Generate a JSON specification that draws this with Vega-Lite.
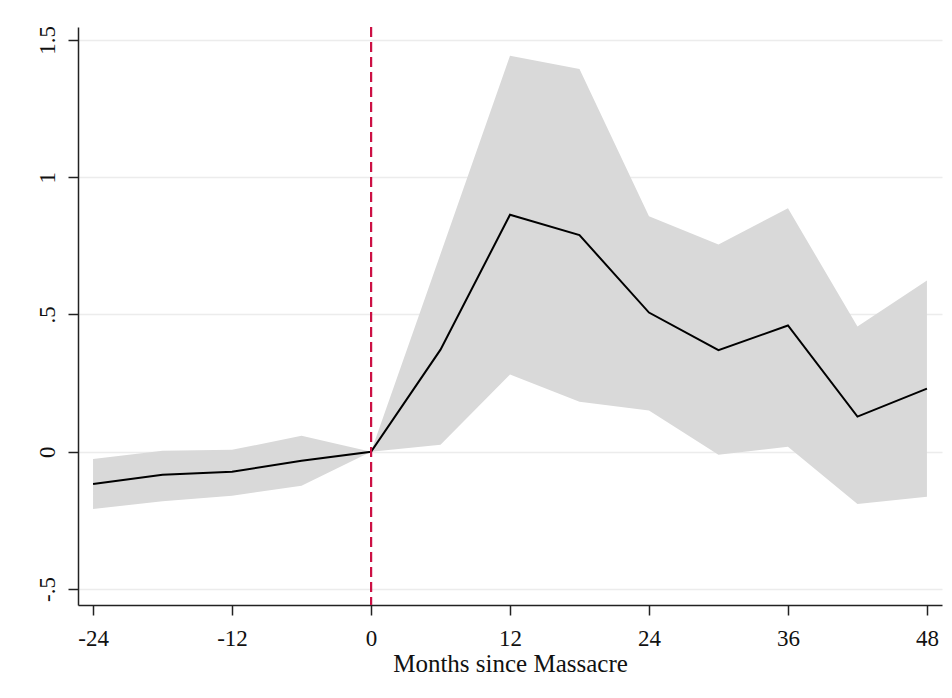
{
  "$schema": "https://vega.github.io/schema/vega-lite/v6.json",
  "width": 864,
  "height": 578,
  "autosize": {"type": "none"},
  "padding": {"left": 78, "top": 27, "right": 10, "bottom": 93},
  "background": "white",
  "config": {
    "view": {"stroke": null},
    "font": "Liberation Serif"
  },
  "data": {
    "values": [
      {"m": -24, "coef": -0.117, "lo": -0.208, "hi": -0.026},
      {"m": -18, "coef": -0.084, "lo": -0.180, "hi": 0.004},
      {"m": -12, "coef": -0.073, "lo": -0.160, "hi": 0.007},
      {"m": -6, "coef": -0.033, "lo": -0.124, "hi": 0.058},
      {"m": 0, "coef": 0.0, "lo": 0.0, "hi": 0.0},
      {"m": 6, "coef": 0.372, "lo": 0.026, "hi": 0.72},
      {"m": 12, "coef": 0.863, "lo": 0.281, "hi": 1.442},
      {"m": 18, "coef": 0.789, "lo": 0.182, "hi": 1.394},
      {"m": 24, "coef": 0.507, "lo": 0.150, "hi": 0.858},
      {"m": 30, "coef": 0.370, "lo": -0.011, "hi": 0.755},
      {"m": 36, "coef": 0.460, "lo": 0.018, "hi": 0.887},
      {"m": 42, "coef": 0.128, "lo": -0.190, "hi": 0.456},
      {"m": 48, "coef": 0.230, "lo": -0.164, "hi": 0.624}
    ]
  },
  "layer": [
    {
      "mark": {"type": "area", "color": "#d9d9d9", "opacity": 1},
      "encoding": {
        "x": {
          "field": "m", "type": "quantitative",
          "scale": {"domain": [-25.3, 49.3], "nice": false, "zero": false},
          "axis": {
            "values": [-24, -12, 0, 12, 24, 36, 48],
            "title": "Months since Massacre",
            "titleFont": "Liberation Serif",
            "titleFontSize": 25,
            "titleFontWeight": "normal",
            "titleColor": "#111111",
            "titlePadding": 1,
            "labelFont": "Liberation Serif",
            "labelFontSize": 23,
            "labelColor": "#111111",
            "labelPadding": 12,
            "labelExpr": "datum.value < 0 ? '-' + abs(datum.value) : '' + datum.value",
            "tickSize": 10,
            "tickColor": "#222222",
            "domainColor": "#222222",
            "domainWidth": 1.5,
            "tickWidth": 1.5,
            "grid": false
          }
        },
        "y": {
          "field": "lo", "type": "quantitative",
          "scale": {"domain": [-0.558, 1.547], "nice": false, "zero": false},
          "axis": {
            "values": [-0.5, 0, 0.5, 1, 1.5],
            "title": null,
            "labelFont": "Liberation Serif",
            "labelFontSize": 23,
            "labelColor": "#111111",
            "labelAngle": -90,
            "labelAlign": "center",
            "labelBaseline": "bottom",
            "labelPadding": 9,
            "labelExpr": "datum.value == -0.5 ? '-.5' : datum.value == 0.5 ? '.5' : datum.value == 0 ? '0' : datum.value == 1 ? '1' : '1.5'",
            "tickSize": 10,
            "tickColor": "#222222",
            "tickWidth": 1.5,
            "domainColor": "#222222",
            "domainWidth": 1.5,
            "grid": true,
            "gridColor": "#ececec",
            "gridWidth": 1.5
          }
        },
        "y2": {"field": "hi"}
      }
    },
    {
      "mark": {"type": "line", "color": "#000000", "strokeWidth": 2},
      "encoding": {
        "x": {"field": "m", "type": "quantitative"},
        "y": {"field": "coef", "type": "quantitative"}
      }
    },
    {
      "mark": {"type": "rule", "color": "#cc1144", "strokeWidth": 2, "strokeDash": [10, 5]},
      "encoding": {
        "x": {"datum": 0, "type": "quantitative"}
      }
    }
  ]
}
